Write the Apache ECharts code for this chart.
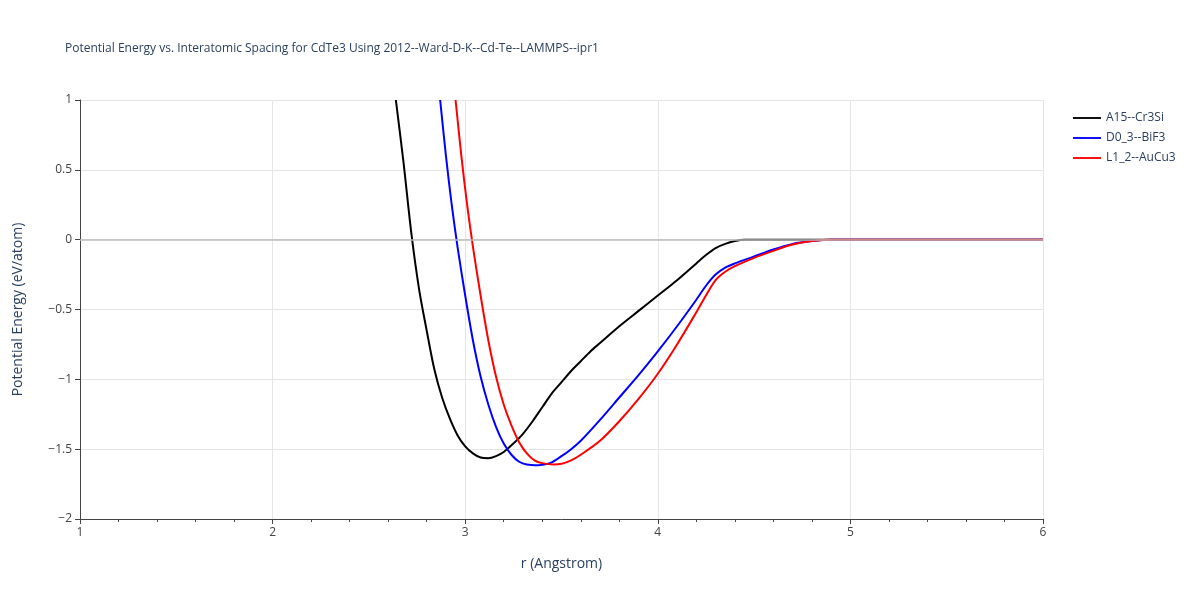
<!DOCTYPE html>
<html><head><meta charset="utf-8">
<script src="https://cdn.jsdelivr.net/npm/echarts@6/dist/echarts.min.js"></script>
<style>html,body{margin:0;padding:0;background:#fff}#c{width:1200px;height:600px}</style>
</head><body><div id="c"></div>
<script>
const a15R=[2.64,2.68,2.72,2.76,2.80,2.84,2.88,2.92,2.96,3.00,3.04,3.08,3.12,3.16,3.20,3.25,3.30,3.35,3.40,3.45,3.50,3.55,3.60,3.65,3.70,3.80,3.90,4.00,4.10,4.20,4.25,4.30,4.35,4.40,4.45,6];
const a15E=[1,0.55,0.05,-0.35,-0.65,-0.93,-1.13,-1.28,-1.4,-1.48,-1.53,-1.56,-1.565,-1.55,-1.52,-1.46,-1.39,-1.3,-1.2,-1.1,-1.02,-0.94,-0.87,-0.8,-0.74,-0.62,-0.51,-0.4,-0.29,-0.17,-0.11,-0.06,-0.03,-0.01,0,0];
const d03R=[2.87,2.90,2.93,2.96,3.00,3.04,3.08,3.12,3.16,3.20,3.24,3.28,3.32,3.38,3.44,3.50,3.55,3.60,3.70,3.80,3.90,4.00,4.10,4.20,4.25,4.30,4.35,4.40,4.50,4.60,4.70,4.80,4.90,6];
const d03E=[1,0.6,0.25,-0.05,-0.4,-0.72,-0.98,-1.18,-1.34,-1.46,-1.54,-1.59,-1.61,-1.615,-1.6,-1.55,-1.5,-1.44,-1.29,-1.13,-0.97,-0.8,-0.62,-0.43,-0.33,-0.25,-0.2,-0.17,-0.12,-0.07,-0.03,-0.01,0,0];
const l12R=[2.95,2.98,3.01,3.04,3.08,3.12,3.16,3.20,3.24,3.28,3.32,3.36,3.40,3.46,3.50,3.55,3.60,3.70,3.80,3.90,4.00,4.10,4.20,4.25,4.30,4.35,4.40,4.50,4.60,4.70,4.80,4.90,6];
const l12E=[1,0.6,0.25,-0.05,-0.4,-0.72,-0.98,-1.18,-1.33,-1.45,-1.53,-1.58,-1.6,-1.61,-1.605,-1.58,-1.54,-1.44,-1.3,-1.14,-0.96,-0.75,-0.52,-0.4,-0.29,-0.23,-0.19,-0.13,-0.08,-0.035,-0.01,0,0];
const names=['A15--Cr3Si','D0_3--BiF3','L1_2--AuCu3'];
const colors=['#000000','#0000ff','#ff0000'];
const zip=(r,e)=>r.map((x,i)=>[x,e[i]]);
const sets=[zip(a15R,a15E),zip(d03R,d03E),zip(l12R,l12E)];
const ch=echarts.init(document.getElementById('c'));
const txt='#444';
ch.setOption({
 animation:false,
 title:{text:'Potential Energy vs. Interatomic Spacing for CdTe3 Using 2012--Ward-D-K--Cd-Te--LAMMPS--ipr1',left:60,top:38,textStyle:{fontSize:12,fontWeight:'normal',color:'#2a3f5f',fontFamily:'Open Sans'}},
 legend:{orient:'vertical',left:1068,top:107,itemGap:8,itemWidth:28,icon:'path://M0,0H30V2H0Z',textStyle:{fontSize:12,color:'#2a3f5f',fontFamily:'Open Sans'}},
 grid:{left:80,right:157,top:100,bottom:81},
 xAxis:{type:'value',min:1,max:6,interval:1,name:'r (Angstrom)',nameLocation:'middle',nameGap:38,
  nameTextStyle:{fontSize:14,color:'#2a3f5f',fontFamily:'Open Sans'},
  axisLine:{show:true,onZero:false,lineStyle:{color:'#444'}},axisTick:{show:true,length:5,lineStyle:{color:'#444'}},
  minorTick:{show:true,splitNumber:5,length:3,lineStyle:{color:'#444'}},
  axisLabel:{color:txt,fontSize:12,fontFamily:'Open Sans'},splitLine:{show:true,lineStyle:{color:'#e5e5e5'}}},
 yAxis:{type:'value',min:-2,max:1,interval:0.5,name:'Potential Energy (eV/atom)',nameLocation:'middle',nameGap:55,
  nameTextStyle:{fontSize:14,color:'#2a3f5f',fontFamily:'Open Sans'},
  axisLine:{show:true,onZero:false,lineStyle:{color:'#444'}},axisTick:{show:true,length:5,lineStyle:{color:'#444'}},
  axisLabel:{color:txt,fontSize:12,fontFamily:'Open Sans',formatter:v=>(v<0?'\u2212'+(-v):''+v)},
  splitLine:{show:true,lineStyle:{color:'#e5e5e5'}}},
 series:names.map((n,i)=>({name:n,type:'line',data:sets[i],showSymbol:false,smooth:0.3,clip:true,
  lineStyle:{width:2,color:colors[i]},itemStyle:{color:colors[i]},
  markLine:i===0?{silent:true,symbol:'none',label:{show:false},lineStyle:{color:'#bbb',width:1.5,type:'solid'},data:[{yAxis:0}]}:undefined}))
});
</script></body></html>
